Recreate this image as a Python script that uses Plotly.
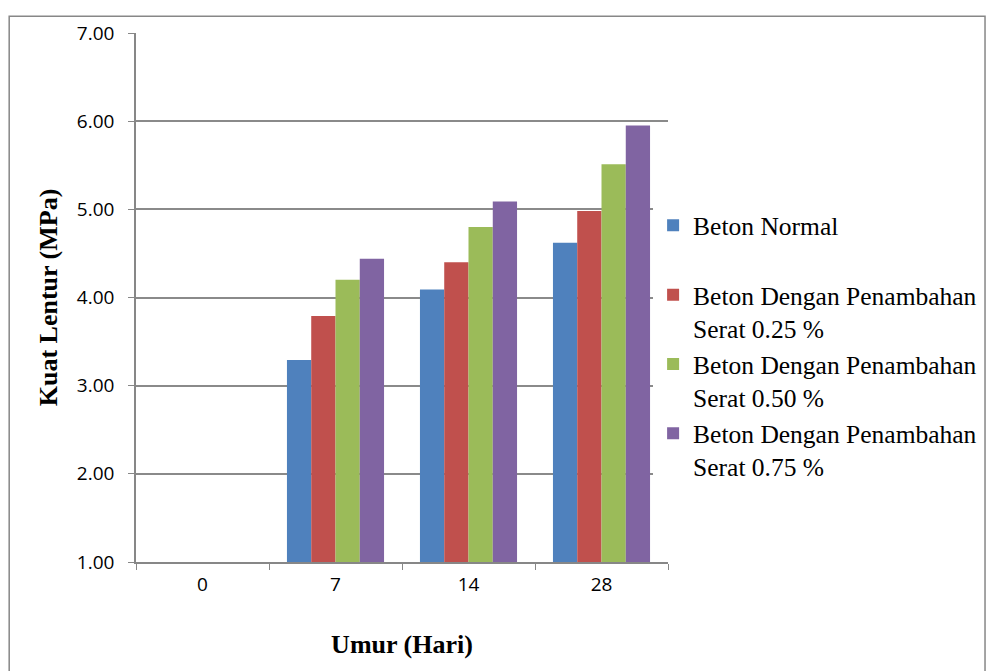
import plotly.graph_objects as go

categories = ["0", "7", "14", "28"]
series_names = [
    "Beton Normal<br> ",
    "Beton Dengan Penambahan<br>Serat 0.25 %",
    "Beton Dengan Penambahan<br>Serat 0.50 %",
    "Beton Dengan Penambahan<br>Serat 0.75 %",
]
beton_normal = [None, 3.29, 4.09, 4.62]
serat_025 = [None, 3.79, 4.40, 4.98]
serat_050 = [None, 4.20, 4.80, 5.51]
serat_075 = [None, 4.44, 5.09, 5.95]
colors = ["#4F81BD", "#C0504D", "#9BBB59", "#8064A2"]

fig = go.Figure()
for name, vals, c in zip(series_names, [beton_normal, serat_025, serat_050, serat_075], colors):
    fig.add_trace(go.Bar(x=categories, y=vals, name=name, marker=dict(color=c, line=dict(width=0))))

T, B, L, R = 18, 109, 128, 321
PH = 663 - T - B
PW = 986 - L - R

fig.update_layout(
    width=986, height=663,
    margin=dict(l=L, r=R, t=T, b=B),
    paper_bgcolor="white", plot_bgcolor="white",
    barmode="group", bargap=0.27, bargroupgap=0,
    showlegend=True,
    legend=dict(x=0.972, xanchor="left", y=0.68, yanchor="top",
                font=dict(family="Liberation Serif", size=25.5, color="black"),
                valign="top", itemwidth=30),
    xaxis=dict(
        type="category", tickson="boundaries", ticks="outside", ticklen=6,
        tickcolor="#878787", showline=True, linecolor="#878787", linewidth=1.5,
        tickfont=dict(family="Open Sans", size=19, color="black"),
        ticklabelstandoff=4,
        title=dict(text="<b>Umur (Hari)</b>", font=dict(family="Liberation Serif", size=26, color="black"), standoff=39),
    ),
    yaxis=dict(
        range=[1, 7], tickvals=[1, 2, 3, 4, 5, 6, 7],
        ticktext=["1.00", "2.00", "3.00", "4.00", "5.00", "6.00", "7.00"],
        ticks="outside", ticklen=6, tickcolor="#878787",
        showline=True, linecolor="#878787", linewidth=1.5,
        showgrid=True, gridcolor="#8a8a8a", gridwidth=1.5,
        tickfont=dict(family="Open Sans", size=19, color="black"),
        ticklabelstandoff=10,
        title=dict(text="<b>Kuat Lentur (MPa)</b>", font=dict(family="Liberation Serif", size=26, color="black"), standoff=12),
        zeroline=False,
    ),
)

fig.add_shape(type="rect", xref="paper", yref="paper",
              x0=-L / PW, x1=(986 - L - 1) / PW, y0=-0.25, y1=(PH + T - 1) / PH,
              line=dict(color="#878787", width=1.5), layer="below")

fig.write_html("out.html")
